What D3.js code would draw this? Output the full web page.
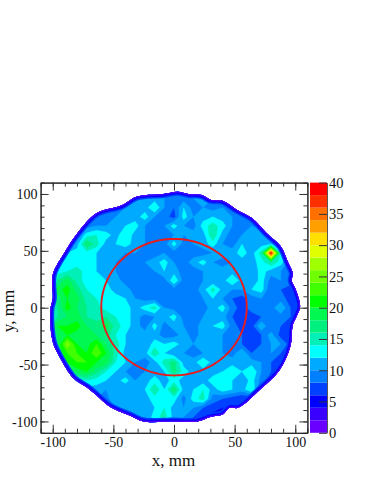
<!DOCTYPE html>
<html lang="en">
<head>
  <meta charset="UTF-8">
  <title>Map</title>
  <style>
    html, body { margin: 0; padding: 0; background: #fff; }
    text { font-family: "Liberation Serif", serif; fill: #111; }
  </style>
</head>
<body>
  <svg id="svg" width="374" height="484"></svg>

  <script src="https://cdn.jsdelivr.net/npm/d3@7"></script>
  <script>
    // bin centres, mm
    const xCenters = d3.range(-112, 113, 8);
    const yCenters = d3.range(112, -113, -8);

    // one row per y, top to bottom
    const cellValues = [
      [0,0,0,0,0,0,0,0,0,0,0,0,0,0,0,0,0,0,0,0,0,0,0,0,0,0,0,0,0],
      [0,0,0,0,0,0,0,0,0,9,9,10,10,10,9,9,10,10,9,9,9,0,0,0,0,0,0,0,0],
      [0,0,0,0,0,0,0,8,8,9,10,11,11,10,9,9,10,11,10,9,8,8,0,0,0,0,0,0,0],
      [0,0,0,0,0,8,8,9,9,10,10,11,14,10,8,12,9,10,9,10,9,8,8,8,0,0,0,0,0],
      [0,0,0,0,8,8,9,9,10,11,11,13,10,9,7,13,10,11,12,11,10,9,8,8,8,0,0,0,0],
      [0,0,0,8,8,9,10,10,11,12,13,10,9,10,13,10,9,13,15,13,10,9,10,9,8,8,0,0,0],
      [0,0,8,8,9,13,14,13,11,14,11,10,9,9,10,10,11,11,16,11,9,10,10,11,10,9,8,0,0],
      [0,0,8,8,11,18,15,11,12,13,11,10,9,9,13,9,10,11,13,10,9,12,11,11,12,10,8,0,0],
      [0,8,8,12,13,13,12,11,11,10,10,9,9,10,9,9,9,9,10,11,11,13,11,15,39,14,9,8,0],
      [0,9,11,13,13,13,12,11,10,9,9,10,11,13,10,9,11,13,10,9,10,11,11,13,16,13,9,8,0],
      [0,10,13,14,15,13,12,11,10,9,9,9,10,12,11,9,9,10,11,11,11,12,10,13,11,10,9,8,0],
      [0,13,16,19,15,13,12,12,11,9,9,9,9,9,14,9,9,10,10,11,14,11,10,13,9,10,9,8,0],
      [0,14,19,21,17,14,12,13,11,11,9,9,9,9,9,9,9,11,15,11,10,10,12,13,8,8,7,7,0],
      [0,14,17,20,19,15,14,13,13,12,10,9,9,9,9,9,9,10,12,10,8,7,9,10,8,9,7,7,0],
      [0,14,16,21,18,16,15,13,13,13,11,13,15,10,9,9,10,9,11,13,9,7,9,8,9,12,8,7,0],
      [0,14,16,18,19,16,15,16,14,13,11,9,10,11,13,9,9,10,11,11,8,7,7,8,8,9,8,7,0],
      [0,14,20,20,21,18,17,19,15,13,11,9,13,9,11,10,9,11,12,13,9,7,7,12,8,8,7,7,0],
      [0,14,18,20,19,18,18,17,14,12,10,11,11,9,9,11,9,11,10,10,9,8,7,8,11,7,7,7,0],
      [0,14,18,26,20,19,22,18,15,12,11,10,13,12,13,11,10,12,11,10,8,8,7,8,10,10,7,7,0],
      [0,14,18,22,22,20,24,20,15,11,10,11,16,12,10,10,9,10,10,10,9,12,8,9,10,8,7,7,0],
      [0,0,14,20,22,22,20,19,14,12,10,9,11,15,17,11,11,14,11,10,11,11,11,10,8,7,7,0,0],
      [0,0,12,16,19,20,17,14,12,10,9,10,11,12,17,13,11,11,11,12,14,12,14,10,8,7,7,0,0],
      [0,0,0,12,13,14,13,12,11,13,10,11,13,11,13,11,11,11,13,13,12,10,13,9,7,7,0,0,0],
      [0,0,0,0,11,11,11,10,10,10,10,12,16,12,18,11,12,14,11,13,12,11,14,8,7,0,0,0,0],
      [0,0,0,0,0,10,10,9,12,10,10,11,13,13,13,9,13,15,9,8,7,6,6,6,0,0,0,0,0],
      [0,0,0,0,0,0,9,9,10,11,10,10,12,14,11,10,10,8,7,6,6,6,6,0,0,0,0,0,0],
      [0,0,0,0,0,0,0,0,8,9,10,10,13,15,11,10,8,6,5,5,5,0,0,0,0,0,0,0,0],
      [0,0,0,0,0,0,0,0,0,0,9,9,9,10,10,9,7,5,5,0,0,0,0,0,0,0,0,0,0],
      [0,0,0,0,0,0,0,0,0,0,0,0,0,0,0,0,0,0,0,0,0,0,0,0,0,0,0,0,0]
    ];

    // edge of the filled area, clockwise from the left, mm
    const outlineX = [-102, -100, -100, -90, -80, -64, -43, -31, -9, 3, 12, 23, 30, 40, 52, 64, 76, 88, 94, 98, 97, 100, 104, 101, 98, 96, 87, 71, 53, 46, 40, 30, 19, -1, -25, -36, -53, -64, -72, -83, -94, -100];
    const outlineY = [-2, 8, 29, 49, 65, 83, 90, 97.6, 100, 102, 100, 99, 95, 94, 86, 79, 66, 54, 40, 30, 24, 17, 1, -8, -15, -34, -55, -72, -88, -88, -94, -96, -100, -100, -100, -95, -87, -77, -70, -62, -44, -30];

    // band edges and colours, lowest first
    const bandEdges = [0, 2, 4, 6, 8, 10, 12, 14, 16, 18, 20, 22, 24, 26, 28, 30, 32, 34, 36, 38, 40];
    const bandColors = ['#6a00ff', '#3a00ff', '#0000ff', '#0040ff', '#0080ff', '#00aaff', '#00ffff', '#00f0b8',
      '#00f080', '#00f850', '#00ff00', '#40ff00', '#70ff00', '#a0ff00', '#e0ff00', '#ffe000', '#ffa000',
      '#ff7000', '#ff3000', '#ff0000'];

    const axisTicks = [-100, -50, 0, 50, 100];
    const minorTicks = d3.range(-110, 111, 10);
    const barTicks = [0, 5, 10, 15, 20, 25, 30, 35, 40];
    const ringCenter = [0, 0.5];
    const ringRadius = 60;
    const ringAngles = d3.range(0, 361, 3);

    const x = d3.scaleLinear().domain([-110, 110]).range([40.6, 307.4]);
    const y = d3.scaleLinear().domain([-110, 110]).range([432.8, 182.6]);
    const z = d3.scaleLinear().domain([0, 40]).range([432.8, 182.6]);

    const svg = d3.select('#svg');

    // contour coordinates are in cells, a value sits at index + 0.5
    const toMap = d3.geoTransform({
      point(cx, cy) {
        const mmX = xCenters[0] + (cx - 0.5) * (xCenters[1] - xCenters[0]);
        const mmY = yCenters[0] + (cy - 0.5) * (yCenters[1] - yCenters[0]);
        this.stream.point(x(mmX), y(mmY));
      }
    });

    // lowest level is 1 so empty bins stay white
    const levels = bandEdges.slice(0, -1).map(d => d === 0 ? 1 : d);
    const contours = d3.contours()
      .size([xCenters.length, yCenters.length])
      .smooth(true)
      .thresholds(levels)(cellValues.flat());

    const outlinePath = d3.line()
      .x(i => x(outlineX[i]))
      .y(i => y(outlineY[i]))
      .curve(d3.curveCatmullRomClosed)(d3.range(outlineX.length));

    svg.append('clipPath')
      .attr('id', 'edge')
      .append('path')
      .attr('d', outlinePath);

    const map = svg.append('g').attr('clip-path', 'url(#edge)');

    map.selectAll('path.band')
      .data(contours)
      .enter()
      .append('path')
      .attr('class', 'band')
      .attr('d', d3.geoPath(toMap))
      .attr('fill', (d, i) => bandColors[i])
      .attr('stroke', (d, i) => bandColors[i])
      .attr('stroke-width', 0.3);

    // the falloff at the rim, half of each stroke is clipped away
    const rimWidths = [8, 5, 2.6, 1];
    const rimColors = [bandColors[3], bandColors[2], bandColors[1], bandColors[0]];
    map.selectAll('path.rim')
      .data(rimWidths)
      .enter()
      .append('path')
      .attr('class', 'rim')
      .attr('d', outlinePath)
      .attr('fill', 'none')
      .attr('stroke', (d, i) => rimColors[i])
      .attr('stroke-width', d => d);

    // red ring
    const ring = d3.line()
      .x(a => x(ringCenter[0] + ringRadius * Math.cos(a * Math.PI / 180)))
      .y(a => y(ringCenter[1] + ringRadius * Math.sin(a * Math.PI / 180)));
    svg.append('path')
      .attr('d', ring(ringAngles))
      .attr('fill', 'none')
      .attr('stroke', '#e81c1c')
      .attr('stroke-width', 1.9);

    // frame ticks, all pointing in
    function frameAxis(make, scale, pos, size, values, labels) {
      const axis = make(scale).tickValues(values).tickSize(size).tickSizeOuter(0);
      axis.tickFormat(labels ? d => String(d) : '');
      const g = svg.append('g').attr('transform', pos).call(axis);
      g.selectAll('path').attr('stroke', '#222');
      g.selectAll('line').attr('stroke', '#333');
      g.selectAll('text').style('font-size', '14px').style('font-family', '"Liberation Serif", serif').attr('fill', '#111');
      return g;
    }

    const frameLeft = x.range()[0], frameRight = x.range()[1];
    const frameBottom = y.range()[0], frameTop = y.range()[1];

    frameAxis(d3.axisBottom, x, `translate(0,${frameBottom})`, -4, minorTicks, false);
    frameAxis(d3.axisTop, x, `translate(0,${frameTop})`, -4, minorTicks, false);
    frameAxis(d3.axisLeft, y, `translate(${frameLeft},0)`, -4, minorTicks, false);
    frameAxis(d3.axisRight, y, `translate(${frameRight},0)`, -4, minorTicks, false);

    frameAxis(d3.axisBottom, x, `translate(0,${frameBottom})`, -8, axisTicks, true)
      .selectAll('text').attr('y', 4).attr('dy', '0.71em');
    frameAxis(d3.axisTop, x, `translate(0,${frameTop})`, -8, axisTicks, false);
    frameAxis(d3.axisLeft, y, `translate(${frameLeft},0)`, -8, axisTicks, true)
      .selectAll('text').attr('x', -3).attr('dy', '0.33em');
    frameAxis(d3.axisRight, y, `translate(${frameRight},0)`, -8, axisTicks, false);

    // colour bar
    const barLeft = 310, barRight = 327;
    svg.append('g')
      .selectAll('rect')
      .data(bandColors)
      .enter()
      .append('rect')
      .attr('x', barLeft)
      .attr('width', barRight - barLeft)
      .attr('y', (d, i) => z(bandEdges[i + 1]))
      .attr('height', (d, i) => z(bandEdges[i]) - z(bandEdges[i + 1]))
      .attr('fill', d => d);

    const barAxis = d3.axisRight(z).tickValues(barTicks).tickSize(-8).tickSizeOuter(0).tickFormat(d => String(d));
    const barG = svg.append('g').attr('transform', `translate(${barRight},0)`).call(barAxis);
    barG.selectAll('path').attr('stroke', '#555');
    barG.selectAll('line').attr('stroke', '#333');
    barG.selectAll('text')
      .attr('x', 2)
      .attr('dy', '0.33em')
      .style('font-size', '14.5px')
      .style('font-family', '"Liberation Serif", serif')
      .attr('fill', '#111');

    svg.append('text')
      .attr('x', 173.5)
      .attr('y', 466)
      .attr('text-anchor', 'middle')
      .style('font-size', '17px')
      .text('x, mm');

    svg.append('text')
      .attr('transform', 'translate(14,311) rotate(-90)')
      .attr('text-anchor', 'middle')
      .style('font-size', '17px')
      .text('y, mm');
  </script>
</body>
</html>
